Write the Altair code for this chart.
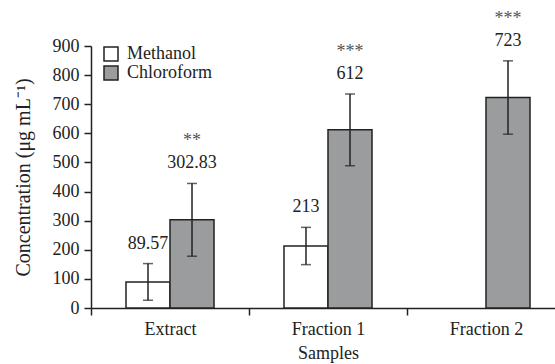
import altair as alt
import pandas as pd

samples = ["Extract", "Fraction 1", "Fraction 2"]
solvents = ["Methanol", "Chloroform"]

row_sample = ["Extract", "Extract", "Fraction 1", "Fraction 1", "Fraction 2"]
row_solvent = ["Methanol", "Chloroform", "Methanol", "Chloroform", "Chloroform"]
row_value = [89.57, 302.83, 213, 612, 723]
row_err = [63, 125, 64, 123, 126]
row_label = ["89.57", "302.83", "213", "612", "723"]
row_stars = ["", "**", "", "***", "***"]
y_ticks = [0, 100, 200, 300, 400, 500, 600, 700, 800, 900]

df = pd.DataFrame({
    "sample": row_sample,
    "solvent": row_solvent,
    "value": row_value,
    "err": row_err,
    "label": row_label,
    "stars": row_stars,
})
df["lo"] = df["value"] - df["err"]
df["hi"] = df["value"] + df["err"]

FONT = "Liberation Serif"
INK = "#222222"

xscale = alt.Scale(domain=samples, range=[0, 474], paddingInner=0, paddingOuter=0)
xoff = alt.XOffset("solvent:N", scale=alt.Scale(domain=solvents, paddingInner=0, paddingOuter=0.795))
x_axis = alt.Axis(
    title="Samples", tickBand="extent", labelAngle=0,
    titleFont=FONT, labelFont=FONT, titleFontSize=18, labelFontSize=18,
    titleFontWeight="normal", titleColor=INK, labelColor=INK,
    domainColor=INK, tickColor=INK, domainWidth=1.5, tickWidth=1.5,
    tickSize=7, labelPadding=5, titlePadding=6, labelOverlap=False,
)
y_axis = alt.Axis(
    title="Concentration (μg mL⁻¹)", values=y_ticks,
    grid=False, titleFont=FONT, labelFont=FONT, titleFontSize=20,
    labelFontSize=18, titleFontWeight="normal", titleColor=INK,
    labelColor=INK, domainColor=INK, tickColor=INK, domainWidth=1.5,
    tickWidth=1.5, tickSize=7, labelPadding=5, titlePadding=19,
    labelOverlap=False,
)
y_scale = alt.Scale(domain=[0, 900], nice=False)
x_enc = alt.X("sample:N", scale=xscale, sort=samples, axis=x_axis)


def yq(field):
    return alt.Y(field, type="quantitative", scale=y_scale, axis=y_axis)


base = alt.Chart(df)

bars = base.mark_bar(stroke=INK, strokeWidth=1.5).encode(
    x=x_enc,
    xOffset=xoff,
    y=yq("value"),
    fill=alt.Fill(
        "solvent:N",
        scale=alt.Scale(domain=solvents, range=["#ffffff", "#9b9c9e"]),
        legend=alt.Legend(
            title=None, orient="none", legendX=11, legendY=-1,
            symbolType="square", symbolSize=196, symbolStrokeColor=INK,
            symbolStrokeWidth=1.5, labelFont=FONT, labelFontSize=18,
            labelColor=INK, labelOffset=7, padding=0, rowPadding=-2,
        ),
    ),
)

rules = base.mark_rule(color=INK, strokeWidth=1.5).encode(
    x=x_enc,
    xOffset=xoff,
    y=yq("lo"),
    y2="hi:Q",
)

caps_hi = base.mark_tick(color=INK, thickness=1.5, size=10).encode(
    x=x_enc, xOffset=xoff, y=yq("hi"),
)
caps_lo = base.mark_tick(color=INK, thickness=1.5, size=10).encode(
    x=x_enc, xOffset=xoff, y=yq("lo"),
)

labels = base.mark_text(font=FONT, fontSize=18, color=INK, baseline="alphabetic", dy=-15).encode(
    x=x_enc, xOffset=xoff, y=yq("hi"), text="label:N",
)
stars = base.mark_text(font=FONT, fontSize=18, color="#555555", baseline="alphabetic", dy=-37).encode(
    x=x_enc, xOffset=xoff, y=yq("hi"), text="stars:N",
)

chart = alt.layer(bars, rules, caps_hi, caps_lo, labels, stars).properties(
    width=464, height=262,
    background="white",
    autosize=alt.AutoSizeParams(type="none"),
    padding={"left": 91, "top": 46, "right": 0, "bottom": 56},
).configure_view(stroke=None)

chart.save("out.html", embed_options={"renderer": "svg", "actions": False})
